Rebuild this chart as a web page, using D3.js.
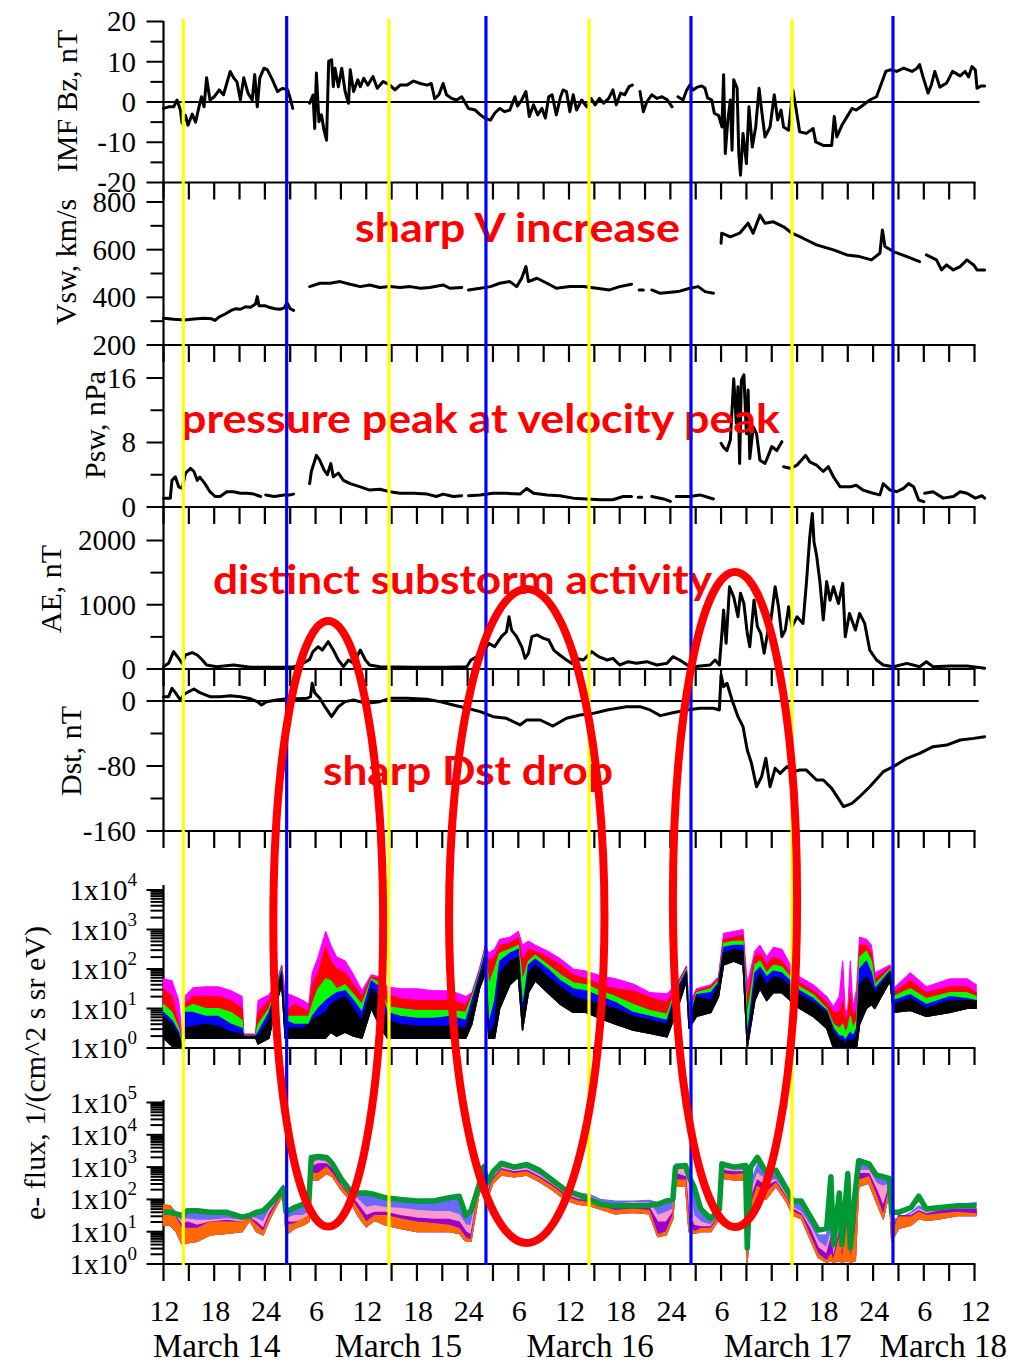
<!DOCTYPE html>
<html>
<head>
<meta charset="utf-8">
<script src="https://cdn.jsdelivr.net/npm/d3@7/dist/d3.min.js"></script>
<style>
html,body{margin:0;padding:0;background:#fff;}
svg{display:block;}
</style>
</head>
<body>
<script>
// ================= DATA (hours since 14 March 00:00 UT) =================
const timeTickHours  = [12,18,24,30,36,42,48,54,60,66,72,78,84,90,96,102,108];
const timeTickLabels = ["12","18","24","6","12","18","24","6","12","18","24","6","12","18","24","6","12"];
const dateLabels     = ["March 14","March 15","March 16","March 17","March 18"];
const dateLabelHours = [18.3,39.8,62.5,85.9,104.3];
const yellowLineHours = [14.34,38.69,62.37,86.4];
const blueLineHours   = [26.58,50.17,74.44,98.35];

const bzMajor=[20,10,0,-10,-20], bzMinor=[15,5,-5,-15];
const vMajor=[800,600,400,200], vMinor=[700,500,300];
const pMajor=[16,8,0], pMinor=[12,4];
const aeMajor=[2000,1000,0], aeMinor=[1500,500];
const dstMajor=[0,-80,-160], dstMinor=[-40,-120];
const flux1Decades=[0,1,2,3,4];
const flux2Decades=[0,1,2,3,4,5];

const imfBz=[[12.0,-1.6],[12.6,-1.2],[13.2,-1.2],[13.6,0.5],[14.0,-2],[14.2,-5.3],[14.6,-3.3],[14.9,-5.8],[15.4,-3],[15.8,-5],[16.2,-1.2],[16.5,1.3],[16.8,-1.2],[17.1,6],[17.5,0.5],[18.0,1.3],[18.6,3],[19.1,1.8],[19.9,7.6],[20.3,6],[20.7,5],[21.1,0.5],[21.5,6],[22.0,2.2],[22.5,0.5],[22.8,6.8],[23.1,-1.2],[23.4,6],[23.9,8.4],[24.3,8],[24.9,5.5],[25.5,2.6],[26.1,3.4],[26.7,3],[27.0,0.9],[27.3,-1.6],[27.4,null],
[29.3,-0.3],[29.7,1.75],[29.9,-6.6],[30.1,7.2],[30.4,-4.9],[30.7,-3.2],[31.0,-7],[31.3,-9.5],[31.55,10.1],[31.9,10.5],[32.1,3.8],[32.3,8.4],[32.7,3.8],[33.1,8.4],[33.5,2.6],[33.9,-0.3],[34.1,8],[34.5,2.6],[35.0,5.5],[35.3,3.8],[35.7,5.9],[36.2,4.2],[36.8,6.3],[37.3,3.4],[38.0,5.1],[38.8,4.2],[39.4,3],[40.0,4.2],[40.8,4.2],[41.6,5.2],[42.4,4.6],[43.2,4.2],[43.7,4.6],[44.1,0.8],[44.6,1.8],[45.1,4.6],[45.5,1.8],[46.1,0.9],[46.7,0.5],[47.3,1.3],[48.1,-1.6],[48.9,-2],[49.5,-3.2],[50.1,-4.1],[50.7,-4.5],[51.2,-2.8],[51.8,-1.6],[52.4,-2.4],[53.0,-2],[53.6,1.3],[53.9,-1],[54.4,0.5],[54.9,2.6],[55.3,-3.6],[55.8,-0.7],[56.3,-3.2],[56.8,-1.6],[57.2,-4],[57.6,1.3],[58.0,1.8],[58.5,-3.2],[59.0,1.3],[59.3,3],[59.7,2.6],[60.1,-2.4],[60.5,1.8],[60.9,-2],[61.5,0.5],[62.1,-1.2],[62.6,0.9],[63.1,-0.7],[63.6,0.9],[64.1,-0.3],[64.7,0.9],[65.2,3],[65.6,-0.7],[66.1,2.2],[66.6,1.8],[67.1,3.8],[67.5,4.2],[67.6,null],
[68.4,2.6],[68.8,-2.4],[69.2,0],[69.8,1.8],[70.4,0.9],[71.0,1.3],[71.6,0.6],[72.2,-1.2],[72.5,null],
[72.9,1.3],[73.5,0.5],[73.9,2.8],[74.3,4.2],[74.7,3],[75.2,3.7],[75.7,4],[76.1,3.4],[76.4,1],[76.9,0.5],[77.2,-2.8],[77.7,-3.3],[78.1,-6.2],[78.3,6.8],[78.5,-12.8],[78.8,-4.5],[79.1,0.5],[79.3,-12],[79.5,5.5],[79.9,3.4],[80.1,-12.8],[80.3,-18.2],[80.6,-7.8],[81.0,-15.3],[81.3,-1.2],[81.7,-11.2],[82.1,-6.2],[82.5,3.4],[82.8,-2],[83.2,-8.7],[83.8,-6.2],[84.3,1.8],[84.7,-4.5],[85.1,-2],[85.4,-6.2],[86.0,-7],[86.5,3],[86.9,-2],[87.3,-7.4],[88.1,-7.8],[88.9,-6.6],[89.2,-9.9],[90.1,-10.8],[91.1,-10.8],[91.4,-3.6],[91.7,-8.7],[92.3,-5.8],[92.9,-3.7],[93.5,-1.6],[94.0,-2],[94.8,-0.8],[95.6,0.5],[96.4,1.3],[97.0,4.7],[97.5,7.6],[98.0,8],[98.8,7.6],[99.6,8.4],[100.6,7.6],[101.2,8.4],[101.5,9.3],[101.9,6.3],[102.5,2.2],[102.9,4.3],[103.3,7.6],[103.9,3.7],[104.7,4.7],[105.4,7.6],[106.3,6.5],[106.9,7.6],[107.3,6.2],[107.7,8.8],[108.1,8],[108.3,3.4],[108.8,4],[109.2,4]];

const vsw=[[12.0,312],[13.2,308],[14.5,305],[15.6,309],[16.8,312],[17.7,310],[18.1,303],[18.6,318],[19.3,330],[20.0,345],[20.5,352],[21.1,350],[21.7,360],[22.3,358],[22.9,372],[23.1,403],[23.3,365],[24.0,365],[24.6,357],[25.2,352],[25.8,350],[26.3,356],[26.6,378],[27.0,352],[27.4,345],[27.5,null],
[29.3,445],[30.5,459],[31.7,459],[32.9,466],[34.1,455],[35.3,445],[36.4,452],[37.6,441],[38.8,445],[40.0,441],[41.2,445],[42.4,438],[43.5,441],[45.1,452],[45.9,438],[47.3,441],[47.7,null],[48.1,431],[49.5,438],[50.7,445],[51.8,459],[53.0,466],[53.8,445],[54.4,480],[54.9,529],[55.2,466],[56.2,480],[57.4,459],[58.5,438],[60.1,445],[61.7,445],[63.3,438],[64.8,431],[66.0,445],[67.4,455],[67.6,null],[68.3,431],[68.8,431],[69.0,null],[69.8,431],[70.8,417],[72.0,421],[72.9,424],[74.3,438],[75.3,445],[76.1,424],[77.1,417],[77.5,null],
[78.0,627],[78.07,669],[79.1,654],[80.2,669],[81.2,711],[81.8,669],[82.6,745],[83.2,711],[84.2,717],[85.4,696],[86.4,669],[87.7,648],[89.3,620],[91.3,599],[92.9,578],[94.4,571],[95.8,557],[96.8,585],[97.1,683],[97.4,613],[98.4,592],[100.0,571],[101.5,550],[101.9,null],[102.3,578],[103.5,557],[104.1,515],[104.7,536],[105.5,515],[106.3,529],[107.1,557],[107.9,536],[108.3,515],[109.2,515]];

const psw=[[12.0,1.07],[12.8,1.07],[13.0,3.3],[13.4,3.75],[13.8,2.5],[14.2,2.3],[14.6,4.2],[15.2,4.8],[15.6,4.4],[16.0,3.3],[16.3,3.7],[16.9,2.9],[17.5,1.9],[18.1,1.3],[18.7,1.3],[19.5,1.9],[20.3,1.9],[21.1,1.7],[21.9,1.7],[22.7,1.6],[23.5,1.3],[23.8,null],[24.1,1.5],[25.1,1.3],[26.3,1.5],[26.9,1.5],[27.4,1.6],[27.5,null],
[29.3,2.9],[29.5,4.4],[30.1,6.4],[30.5,5.8],[31.0,4.6],[31.4,4.0],[31.8,5.4],[32.1,3.75],[32.7,4.2],[33.3,3.3],[34.1,2.9],[35.3,2.5],[36.4,2.1],[37.6,2.2],[38.8,1.9],[40.0,1.7],[41.6,1.7],[43.2,1.6],[44.3,1.3],[45.1,1.6],[46.3,1.3],[47.3,1.4],[47.7,null],[48.1,1.4],[49.5,1.5],[51.0,1.7],[52.6,1.7],[54.2,1.6],[55.0,2.3],[55.8,1.7],[57.4,1.5],[58.9,1.4],[60.5,1.1],[62.1,1.0],[63.7,0.9],[65.2,0.9],[66.4,1.3],[67.4,1.3],[67.8,null],[68.2,1.2],[68.6,1.2],[68.9,null],[69.8,1.3],[71.2,1.0],[72.0,0.7],[72.3,null],[72.7,1.3],[74.3,1.3],[75.5,1.5],[77.1,1.0],[77.5,null],
[78.0,7.9],[78.3,7.4],[78.7,7.0],[79.1,8.3],[79.5,15.9],[79.8,10.4],[80.0,14.9],[80.2,5.4],[80.4,15.7],[80.7,16.4],[81.0,9.1],[81.2,14.5],[81.4,6.0],[81.8,9.95],[82.2,9.1],[82.6,5.8],[83.2,5.4],[83.6,6.4],[84.0,7.5],[84.6,7.0],[85.2,8.1],[85.3,null],[85.4,5.0],[86.2,4.8],[87.0,5.2],[88.0,6.4],[88.5,5.6],[89.3,5.2],[90.1,4.4],[90.7,5.0],[91.3,3.75],[92.1,2.5],[93.3,2.5],[94.0,2.7],[94.8,2.1],[96.0,1.7],[96.8,1.5],[97.2,2.9],[98.0,2.1],[98.8,1.9],[99.6,2.3],[100.2,2.9],[100.8,2.5],[101.4,0.87],[102.0,0.66],[102.05,null],[102.1,1.7],[103.1,1.9],[104.3,1.1],[105.5,1.3],[106.3,1.9],[107.1,1.7],[108.1,1.1],[108.9,1.4],[109.2,1.1]];

const ae=[[12.0,36],[12.6,88],[13.2,270],[13.8,166],[14.2,88],[14.6,218],[15.4,254],[16.0,218],[16.6,140],[17.1,62],[18.3,36],[20.3,62],[22.3,26],[24.2,26],[26.2,26],[27.4,36],[28.2,62],[29.3,150],[29.7,270],[30.3,347],[30.8,295],[31.5,425],[32.1,295],[32.7,140],[33.3,36],[33.9,140],[34.5,88],[35.3,295],[35.9,140],[36.4,62],[37.6,36],[41.6,26],[45.5,26],[47.9,36],[48.4,140],[49.1,192],[49.9,270],[50.5,399],[51.2,347],[52.0,503],[52.6,580],[52.9,813],[53.2,606],[53.8,503],[54.4,347],[54.8,166],[55.2,244],[55.6,503],[56.2,530],[57.0,476],[57.6,451],[58.2,295],[58.9,218],[59.7,140],[60.3,88],[60.9,166],[61.7,140],[62.7,270],[63.5,192],[64.5,140],[65.2,166],[66.0,62],[67.0,114],[68.0,88],[69.2,114],[70.4,62],[71.6,88],[72.3,192],[73.1,140],[74.0,62],[74.7,36],[76.7,62],[77.3,140],[77.8,62],[78.1,555],[78.3,918],[78.6,400],[79.0,1280],[79.5,1120],[80.0,813],[80.3,1180],[80.7,1020],[81.1,555],[81.4,347],[81.9,1070],[82.3,659],[82.7,555],[83.1,244],[83.5,555],[83.9,763],[84.4,1280],[84.8,970],[85.2,503],[85.6,606],[86.0,970],[86.4,659],[87.0,813],[87.7,710],[88.1,1333],[88.5,2057],[88.8,2421],[89.0,1982],[89.3,1775],[89.7,1360],[90.1,763],[90.5,1360],[90.9,1070],[91.3,1280],[91.9,1020],[92.4,1333],[92.7,503],[93.2,865],[93.9,606],[94.4,865],[95.0,710],[95.6,295],[96.4,140],[97.2,62],[98.4,36],[100.0,88],[101.5,36],[102.3,114],[103.1,36],[105.1,47],[107.1,47],[109.2,10]];

const dst=[[12.0,5.3],[12.6,5.3],[13.0,15.6],[13.4,10.3],[14.0,1.2],[14.4,8.2],[15.6,14.8],[16.3,10.3],[17.5,5.3],[18.7,5.3],[19.9,6.5],[21.1,5.3],[22.3,2.7],[23.1,-0.8],[23.6,-4.9],[24.2,-0.8],[25.4,1.2],[26.6,2.7],[27.8,2.7],[29.0,3.3],[29.4,5.3],[29.6,21.8],[29.9,10.3],[30.5,3.3],[31.1,-7],[31.9,-19.3],[32.7,-7],[33.5,-0.8],[34.5,1.2],[36.0,-2.9],[37.6,-0.8],[38.8,3.3],[40.8,3.3],[43.2,2.1],[44.7,-0.8],[46.3,-4.9],[47.9,-9],[49.5,-13.1],[51.0,-19.3],[52.6,-21.3],[54.2,-29.5],[55.0,-23.4],[56.6,-23.4],[58.1,-30.8],[59.7,-21.3],[61.3,-17.2],[62.9,-15.2],[64.5,-11],[66.8,-7],[68.4,-7],[69.6,-11],[70.8,-18],[72.3,-14.5],[73.9,-11],[75.5,-9],[77.1,-9],[77.8,-11],[78.0,32],[78.3,17.6],[78.7,21.8],[79.3,1.2],[80.0,-19.3],[80.6,-31.6],[81.1,-60.3],[81.6,-76.7],[82.2,-105.5],[82.8,-93.2],[83.3,-70.5],[83.8,-105.5],[84.4,-82.8],[85.0,-89],[85.8,-80.8],[86.6,-87],[87.3,-85],[88.1,-85],[89.3,-97.2],[90.1,-97.2],[91.1,-107.5],[92.5,-130],[93.5,-126],[94.4,-117.8],[95.6,-105.5],[97.2,-87],[98.4,-80.8],[100.0,-70.5],[101.5,-64.4],[103.1,-56.2],[104.7,-54.2],[106.3,-48],[107.9,-46],[109.2,-43.9]];

// e- flux, first detector: log10 of upper envelope per channel, shared lower envelope
const flux1Hours=[12.0,13.0,13.8,14.2,14.5,15.5,17.0,18.5,20.0,21.3, 21.5,22.9,23.2,24.5,25.3,26.0,26.4,27.5,28.5,29.2, 29.6,30.3,31.2,31.8,32.5,33.5,34.5,35.5,36.6,37.5, 38.5,40.0,42.0,44.0,46.0,47.8,48.5,49.4,50.1,50.5, 51.2,51.8,53.0,54.0,54.5,55.2,56.0,57.5,59.0,60.5, 62.0,63.7,65.5,67.6,69.6,71.6,72.7,73.9,74.2,75.1, 76.8,77.7,78.3,79.5,80.6,81.1,82.0,82.6,83.4,84.2, 85.2,86.2,87.3,88.9,90.5,91.3,92.0,92.4,92.7,93.0, 93.3,93.6,94.05,94.4,95.2,95.8,96.2,98.0,98.4,100.4, 102.3,105.1,107.1,108.2];
const flux1Magenta=[1.75,1.7,1.2,0.3,1.3,1.52,1.55,1.55,1.45,1.3, 0.35,0.35,1.2,1.35,1.6,2.1,1.4,1.3,1.2,1.1, 1.9,2.3,2.95,2.6,2.3,2.2,1.85,1.45,1.85,1.8, 1.55,1.5,1.5,1.45,1.45,1.3,1.4,2.0,2.6,2.4, 2.5,2.75,2.8,2.95,2.6,2.7,2.6,2.45,2.25,2.0, 1.95,1.83,1.75,1.62,1.4,1.37,1.6,2.07,1.1,1.5, 1.6,1.8,2.9,2.95,3.0,1.6,2.45,2.6,2.3,2.55, 2.5,2.1,1.8,1.6,1.3,1.05,1.3,2.2,0.9,1.0, 2.2,1.0,1.5,2.8,2.75,2.6,1.9,2.1,1.5,1.9, 1.55,1.75,1.75,1.6];
const flux1Red=[1.5,1.3,0.6,0.2,1.1,1.3,1.3,1.3,1.2,1.0, 0.33,0.33,0.9,1.2,1.55,2.05,0.9,1.1,1.0,0.9, 1.6,1.9,2.55,2.2,2.0,1.9,1.6,1.3,1.8,1.75, 1.35,1.25,1.2,1.2,1.2,1.1,1.35,1.95,2.55,2.2, 2.3,2.6,2.65,2.8,2.2,2.5,2.45,2.3,2.1,1.85, 1.75,1.6,1.5,1.45,1.28,1.15,1.55,2.05,0.9,1.45, 1.55,1.75,2.75,2.8,2.85,1.2,2.3,2.4,2.1,2.3, 2.2,1.9,1.65,1.45,1.15,0.9,0.9,1.2,0.7,0.8, 1.4,0.8,1.0,2.6,2.6,2.4,1.75,2.05,1.4,1.7, 1.4,1.55,1.55,1.4];
const flux1Green=[1.1,0.9,0.5,0.1,1.0,1.1,1.0,1.0,0.9,0.7, 0.31,0.31,0.6,1.0,1.5,2.0,0.8,0.8,0.8,0.8, 1.1,1.5,1.75,1.7,1.5,1.6,1.35,1.1,1.75,1.65, 1.05,1.0,0.95,0.95,0.95,0.9,1.3,1.9,2.5,1.6, 2.0,2.4,2.5,2.6,1.7,2.2,2.35,2.1,1.85,1.65, 1.6,1.45,1.3,1.1,0.95,0.85,1.5,2.0,0.8,1.4, 1.5,1.7,2.65,2.7,2.7,0.8,2.1,2.2,1.9,2.1, 2.05,1.8,1.55,1.35,1.0,0.6,0.5,0.6,0.4,0.5, 0.8,0.5,0.7,2.3,2.45,2.2,1.6,2.0,1.3,1.5, 1.25,1.4,1.4,1.3];
const flux1Blue=[0.9,0.7,0.4,0.05,0.9,0.9,0.8,0.8,0.6,0.5, 0.3,0.3,0.4,0.9,1.45,1.95,0.7,0.6,0.6,0.6, 0.8,1.0,1.2,1.3,1.4,1.45,1.2,0.9,1.7,1.55, 0.9,0.8,0.75,0.75,0.8,0.7,1.2,1.85,2.4,0.6, 1.2,2.2,2.4,2.5,1.0,2.1,2.25,2.0,1.7,1.5, 1.45,1.3,1.15,0.9,0.8,0.7,1.45,1.95,0.7,1.35, 1.4,1.65,2.55,2.6,2.6,0.3,1.9,2.05,1.8,1.95, 1.9,1.7,1.45,1.25,0.95,0.5,0.3,0.3,0.2,0.3, 0.4,0.3,0.5,2.0,2.2,1.9,1.5,1.95,1.2,1.35, 1.1,1.3,1.25,1.2];
const flux1Black=[0.8,0.6,0.3,0.02,0.5,0.55,0.6,0.55,0.4,0.35, 0.29,0.29,0.3,0.7,1.4,1.85,0.5,0.5,0.5,0.6, 0.7,0.8,0.9,1.1,1.2,1.3,1.0,0.7,1.5,1.3, 0.7,0.6,0.55,0.55,0.55,0.5,1.0,1.75,2.2,0.3, 0.6,1.9,2.2,2.3,0.8,1.9,2.1,1.8,1.55,1.3, 1.2,1.1,1.0,0.8,0.7,0.6,1.3,1.9,0.6,1.3, 1.2,1.6,2.4,2.5,2.45,0.1,1.6,1.9,1.6,1.8, 1.75,1.55,1.35,1.15,0.9,0.4,0.2,0.2,0.1,0.2, 0.2,0.2,0.3,1.6,1.8,1.6,1.4,1.9,1.1,1.25, 1.0,1.2,1.2,1.2];
const flux1Floor=[0.25,0.05,0.0,0.0,0.25,0.25,0.25,0.25,0.25,0.25, 0.25,0.25,0.1,0.25,1.1,1.6,0.25,0.25,0.25,0.25, 0.25,0.25,0.25,0.4,0.3,0.4,0.3,0.25,1.0,0.6, 0.25,0.25,0.25,0.25,0.25,0.25,0.6,1.5,1.9,0.25, 0.25,1.0,1.6,1.8,0.45,1.4,1.7,1.4,1.1,0.9, 0.9,0.75,0.6,0.45,0.37,0.28,0.9,1.7,0.5,0.8, 0.9,1.3,2.1,2.2,2.1,0.0,1.2,1.5,1.2,1.4, 1.4,1.2,1.0,0.8,0.5,0.0,0.0,0.0,0.0,0.0, 0.0,0.0,0.0,0.6,1.0,1.1,1.0,1.7,0.9,0.95, 0.8,0.9,1.0,1.0];

// e- flux, second detector
const flux2Hours=[12.0,12.8,13.5,14.2,14.8,16.0,17.5,19.5,21.3,22.2, 23.0,23.8,24.6,25.5,26.2,26.5,27.5,28.5,29.2,29.5, 30.3,31.3,32.0,33.0,34.0,35.0,36.0,37.0,38.3,40.0, 42.0,44.0,45.8,47.0,47.8,48.4,49.3,49.9,50.3,51.0, 52.0,53.5,55.0,56.5,58.0,59.5,61.0,62.5,63.7,65.5, 67.6,69.5,70.5,71.5,72.3,72.6,73.8,74.2,74.8,75.6, 76.8,77.8,78.1,79.5,80.9,81.1,81.5,82.3,83.3,84.5, 85.8,86.5,87.5,88.5,89.5,90.5,91.0,91.3,92.0,92.3, 93.0,93.3,93.9,94.3,95.5,96.4,97.2,97.9,98.2,99.0, 100.5,101.4,102.3,104.0,106.0,108.2];
const flux2Green=[1.6,1.6,1.55,1.5,1.65,1.65,1.6,1.6,1.45,1.5, 1.6,1.65,1.85,2.1,2.35,1.6,1.75,1.85,1.9,3.3, 3.33,3.3,3.1,2.65,2.3,2.2,2.2,2.15,2.05,2.0, 1.95,1.95,2.05,2.1,1.5,1.65,2.4,3.0,2.5,2.85, 3.12,3.0,3.08,2.9,2.6,2.3,2.15,2.0,1.85,1.8, 1.8,1.82,1.85,1.95,2.0,3.0,3.05,2.7,2.4,1.7, 1.4,1.7,3.1,3.0,3.05,0.5,3.0,3.3,2.85,2.9, 2.3,1.95,1.95,1.5,1.05,1.1,2.7,0.6,2.2,0.6, 2.8,0.5,2.3,3.2,3.1,2.75,2.7,2.65,1.6,1.6, 1.75,2.1,1.7,1.75,1.8,1.8];
const flux2Blue=[1.7,1.8,1.6,1.55,1.7,1.6,1.55,1.55,1.4,1.48, 1.55,1.6,1.9,2.2,2.45,1.55,1.7,1.8,1.9,3.3, 3.35,3.3,3.1,2.6,2.25,2.15,2.15,2.1,2.0,1.95, 1.9,1.9,2.0,2.0,1.45,1.6,2.5,3.1,2.45,2.9, 3.15,3.05,3.1,2.9,2.65,2.35,2.2,2.15,2.0,1.95, 1.95,1.97,1.9,1.95,2.0,3.1,3.1,2.75,2.2,1.6, 1.5,1.7,3.15,3.05,3.1,0.45,2.5,3.1,2.9,2.85, 2.25,1.9,1.85,1.4,0.9,0.9,2.0,0.5,1.6,0.5, 2.5,0.45,2.0,3.25,3.15,2.8,2.75,2.7,1.4,1.4, 1.6,1.8,1.7,1.8,1.85,1.9];
const flux2Pink=[1.75,1.8,1.5,1.3,1.4,1.35,1.35,1.4,1.35,1.45, 1.4,1.3,1.7,2.0,2.3,1.4,1.5,1.5,1.6,3.1, 3.2,3.15,3.0,2.5,2.2,2.0,1.75,1.8,1.75,1.72, 1.66,1.62,1.62,1.52,1.2,1.2,2.3,2.9,2.3,2.7, 3.0,2.9,2.95,2.75,2.5,2.2,2.05,2.1,1.9,1.85, 1.9,1.9,1.5,1.6,1.7,3.0,2.9,2.4,1.5,1.3, 1.2,1.6,3.0,2.9,2.9,0.3,2.2,2.8,2.6,2.6, 2.1,1.75,1.6,1.2,0.7,0.5,1.0,0.3,1.2,0.3, 2.0,0.3,1.6,2.9,2.9,2.5,2.4,2.5,1.1,1.3, 1.55,1.7,1.6,1.7,1.75,1.8];
const flux2Purple=[1.8,1.8,1.45,1.2,1.3,1.2,1.3,1.35,1.3,1.42, 1.3,1.1,1.6,1.95,2.3,1.3,1.3,1.35,1.45,3.0, 3.1,3.1,2.95,2.45,2.15,1.85,1.5,1.6,1.6,1.5, 1.42,1.38,1.38,1.3,1.0,0.9,2.25,2.85,2.2,2.65, 2.95,2.85,2.9,2.7,2.45,2.15,2.0,1.95,1.85,1.75, 1.8,1.75,1.3,1.3,1.6,2.8,2.7,1.5,1.2,1.15, 1.15,1.55,2.9,2.85,2.85,0.3,2.0,2.6,2.4,2.55, 2.05,1.7,1.55,1.1,0.5,0.3,0.8,0.2,1.0,0.2, 1.6,0.2,1.3,2.8,2.8,2.3,1.8,2.4,0.95,1.5, 1.5,1.65,1.55,1.65,1.7,1.7];
const flux2Orange=[1.85,1.8,1.4,1.1,1.1,1.1,1.3,1.3,1.3,1.4, 1.2,1.0,1.5,1.9,2.25,1.2,1.25,1.4,1.5,2.8, 2.8,3.0,2.8,2.4,2.1,1.7,1.3,1.5,1.5,1.4, 1.3,1.25,1.2,1.1,0.8,0.75,2.2,2.8,2.1,2.6, 2.9,2.8,2.85,2.65,2.4,2.1,1.95,1.9,1.8,1.65, 1.7,1.65,0.9,1.0,1.5,2.6,2.6,1.2,1.0,1.1, 1.1,1.5,2.8,2.75,2.8,0.1,1.8,2.4,2.2,2.5, 2.0,1.6,1.5,0.9,0.3,0.1,0.3,0.1,0.8,0.1, 1.3,0.1,1.0,2.6,2.7,2.1,1.5,2.3,0.9,1.45, 1.45,1.6,1.5,1.55,1.6,1.55];
const flux2Floor=[1.2,1.2,1.0,0.6,0.65,0.7,0.9,0.95,1.0,1.35, 1.0,0.9,1.4,1.85,2.15,0.9,1.1,1.2,1.3,2.6, 2.6,2.8,2.7,2.3,2.0,1.5,1.15,1.35,1.2,1.1, 1.0,1.0,1.0,0.95,0.7,0.7,2.1,2.6,2.0,2.5, 2.75,2.7,2.75,2.55,2.3,2.0,1.85,1.8,1.7,1.55, 1.6,1.55,0.85,0.9,1.4,2.4,2.4,1.0,0.95,1.0, 1.0,1.4,2.65,2.6,2.6,0.05,1.6,2.2,2.0,2.4, 1.9,1.5,1.4,0.8,0.2,0.05,0.1,0.05,0.1,0.05, 0.1,0.05,0.1,2.4,2.5,1.9,1.4,2.2,0.7,1.1, 1.2,1.4,1.35,1.4,1.5,1.5];

// ================= DRAWING =================
const W=1014, H=1366;
const SERIF="'Liberation Serif','Times New Roman',Times,serif";
const SANS="Lato,'Open Sans','Noto Sans',sans-serif";
const svg=d3.select("body").append("svg").attr("width",W).attr("height",H);
svg.append("rect").attr("width",W).attr("height",H).attr("fill","#fff");

const AX=163.5, XEND=974.5;
const x=d3.scaleLinear().domain([12,108]).range([AX,XEND]);
const yBz=d3.scaleLinear().domain([-20,20]).range([182.5,21.5]);
const yV=d3.scaleLinear().domain([200,800]).range([345,202]);
const yP=d3.scaleLinear().domain([0,16]).range([507,378]);
const yAE=d3.scaleLinear().domain([0,2000]).range([669,540.5]);
const yDst=d3.scaleLinear().domain([-160,0]).range([831,701]);
const yF1=d3.scaleLog().domain([1,1e4]).range([1048,890]);
const yF2=d3.scaleLog().domain([1,1e5]).range([1264,1102.5]);

const gAxes=svg.append("g");
function ln(g,x1,y1,x2,y2,w,c){g.append("line").attr("x1",x1).attr("y1",y1).attr("x2",x2).attr("y2",y2).attr("stroke",c||"#000").attr("stroke-width",w||2);}
function tickLabel(yy,txt){
  gAxes.append("text").attr("x",136).attr("y",yy).attr("dy","0.34em").attr("text-anchor","end")
    .attr("font-family",SERIF).attr("font-size",29).attr("fill","#000").text(txt);
}
function linAxis(ys,majors,minors){
  majors.forEach(v=>{ln(gAxes,AX-17,ys(v),AX,ys(v),2);tickLabel(ys(v),String(v));});
  minors.forEach(v=>ln(gAxes,AX-13,ys(v),AX,ys(v),2));
}
function logAxis(ys,decades){
  const top=decades[decades.length-1];
  decades.forEach(k=>{
    const yy=ys(Math.pow(10,k));
    ln(gAxes,AX-17,yy,AX,yy,2);
    const t=gAxes.append("text").attr("x",137).attr("y",yy+10).attr("text-anchor","end")
      .attr("font-family",SERIF).attr("font-size",29).attr("fill","#000");
    t.append("tspan").text("1x10");
    t.append("tspan").attr("dy",-14).attr("font-size",19).text(String(k));
    if(k<top){ for(let m=2;m<=9;m++){const ym=ys(m*Math.pow(10,k)); ln(gAxes,AX-13,ym,AX,ym,2);} }
  });
}
ln(gAxes,AX,21,AX,831,2.2);
ln(gAxes,AX,885,AX,1048,2.2);
ln(gAxes,AX,1100,AX,1264,2.2);
linAxis(yBz,bzMajor,bzMinor);
linAxis(yV,vMajor,vMinor);
linAxis(yP,pMajor,pMinor);
linAxis(yAE,aeMajor,aeMinor);
linAxis(yDst,dstMajor,dstMinor);
logAxis(yF1,flux1Decades);
logAxis(yF2,flux2Decades);

const panelBottoms=[yBz(-20),yV(200),yP(0),yAE(0),yDst(-160),yF1(1),yF2(1)];
const tickHours=d3.range(12,108.01,3);
panelBottoms.forEach(yb=>{
  ln(gAxes,AX-1,yb,XEND+1,yb,2.2);
  tickHours.forEach(h=>ln(gAxes,x(h),yb,x(h),yb+17,2.2));
});
ln(gAxes,AX,yBz(0),x(108.6),yBz(0),2);
ln(gAxes,AX,yDst(0),x(108.5),yDst(0),2);

timeTickHours.forEach((h,i)=>{
  svg.append("text").attr("x",x(h)+1).attr("y",1321).attr("text-anchor","middle")
    .attr("font-family",SERIF).attr("font-size",30).attr("fill","#000").text(timeTickLabels[i]);
});
dateLabels.forEach((t,i)=>{
  svg.append("text").attr("x",x(dateLabelHours[i])).attr("y",1357).attr("text-anchor","middle")
    .attr("font-family",SERIF).attr("font-size",33).attr("fill","#000").text(t);
});

const yTitles=[["IMF Bz, nT",77,101],["Vsw, km/s",76,262],["Psw, nPa",105,425],["AE, nT",61,589],["Dst, nT",81,751],["e- flux, 1/(cm^2 s sr eV)",45,1073]];
yTitles.forEach(([t,tx,ty])=>{
  svg.append("text").attr("transform",`translate(${tx},${ty}) rotate(-90)`).attr("text-anchor","middle")
    .attr("font-family",SERIF).attr("font-size",30).attr("fill","#000").text(t);
});

function bands(hours,floor,series,ys){
  const g=svg.append("g");
  series.forEach(s=>{
    const rows=hours.map((h,i)=>({h:h,lo:floor[i],hi:s.v[i]}));
    const area=d3.area().x(d=>x(d.h)).y0(d=>ys(Math.pow(10,Math.min(d.lo,d.hi)))).y1(d=>ys(Math.pow(10,d.hi)));
    g.append("path").attr("d",area(rows)).attr("fill",s.c).attr("stroke",s.c).attr("stroke-width",1.2).attr("stroke-linejoin","round");
  });
}
bands(flux1Hours,flux1Floor,[
  {v:flux1Magenta,c:"#ff00ff"},{v:flux1Red,c:"#ff0000"},{v:flux1Green,c:"#00ff00"},
  {v:flux1Blue,c:"#0000ff"},{v:flux1Black,c:"#000000"}],yF1);
bands(flux2Hours,flux2Floor,[
  {v:flux2Blue,c:"#6a6aff"},{v:flux2Pink,c:"#ff99cc"},
  {v:flux2Purple,c:"#9900cc"},{v:flux2Orange,c:"#ff6a00"}],yF2);
// green channel of second detector drawn as a heavy line over the others
svg.append("path").attr("d",d3.line().x((h)=>x(h)).y((h,i)=>yF2(Math.pow(10,flux2Green[i])))(flux2Hours))
  .attr("fill","none").attr("stroke","#009933").attr("stroke-width",5.5).attr("stroke-linejoin","round");

function dataLine(data,ys){
  const l=d3.line().defined(d=>d[1]!=null).x(d=>x(d[0])).y(d=>ys(d[1]));
  svg.append("path").attr("d",l(data)).attr("fill","none").attr("stroke","#000")
    .attr("stroke-width",3).attr("stroke-linejoin","round").attr("stroke-linecap","round");
}
dataLine(imfBz,yBz);
dataLine(vsw,yV);
dataLine(psw,yP);
dataLine(ae,yAE);
dataLine(dst,yDst);

const notes=[["sharp V increase",355,242,325],["pressure peak at velocity peak",181,433,599],
  ["distinct substorm activity",213,594,499],["sharp Dst drop",323,785,290]];
notes.forEach(([t,tx,ty,len])=>{
  svg.append("text").attr("x",tx).attr("y",ty).attr("font-family",SANS).attr("font-weight",700)
    .attr("font-size",41).attr("fill","#ff0000").attr("textLength",len).attr("lengthAdjust","spacingAndGlyphs").text(t);
});

yellowLineHours.forEach(h=>ln(svg,x(h),19,x(h),1265,3.2,"#ffff00"));
blueLineHours.forEach(h=>ln(svg,x(h),16,x(h),1265,3.2,"#0000ff"));

const ellipses=[[31.5,6.5,923.8,302.8],[55.0,9.2,916,327],[79.65,7.35,899.5,327.5]];
ellipses.forEach(([ch,hw,cy,ry])=>{
  svg.append("ellipse").attr("cx",x(ch)).attr("cy",cy).attr("rx",x(ch+hw)-x(ch)).attr("ry",ry)
    .attr("fill","none").attr("stroke","#ff0000").attr("stroke-width",8);
});
</script>
</body>
</html>
